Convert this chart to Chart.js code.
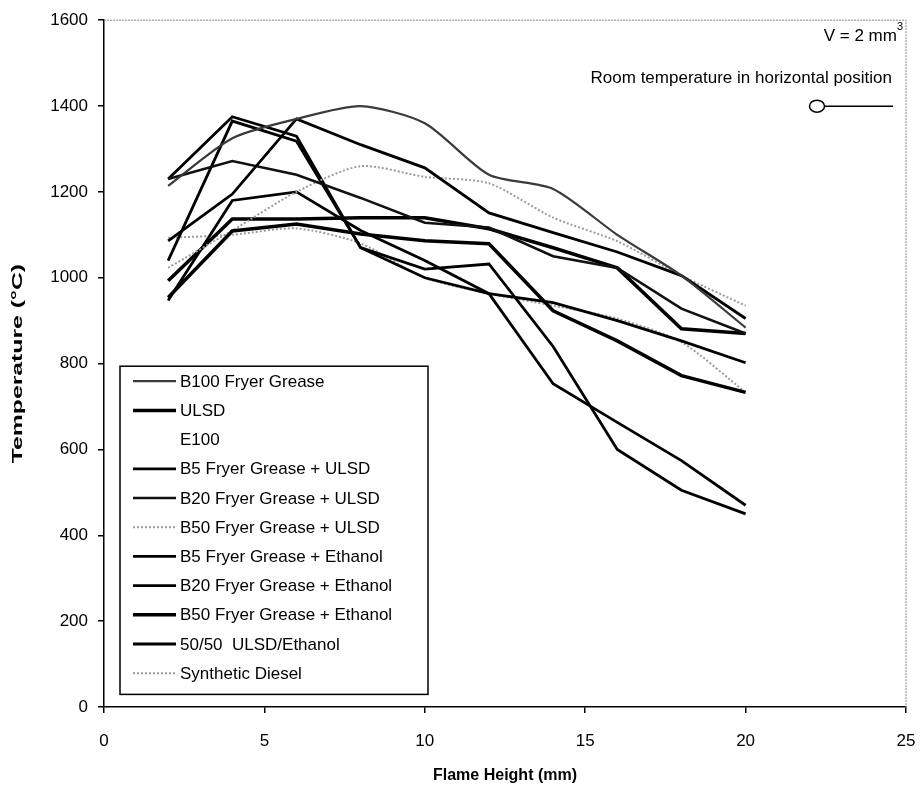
<!DOCTYPE html>
<html>
<head>
<meta charset="utf-8">
<script src="https://cdn.jsdelivr.net/npm/chart.js@4/dist/chart.umd.min.js"></script>
<style>
  html, body { margin: 0; padding: 0; background: #fff; }
  #wrap { width: 922px; height: 790px; }
</style>
</head>
<body>
<div id="wrap"><canvas id="flameChart" width="922" height="790"></canvas></div>
<script>
// flame height (mm)
const heights = [2, 4, 6, 8, 10, 12, 14, 16, 18, 20]

// temperature (°C)
const b100Grease    = [1214, 1325, 1370, 1400, 1360, 1240, 1207, 1100, 1005, 884]
const ulsd          = [954, 1109, 1125, 1102, 1086, 1079, 923, 853, 772, 733]
const e100          = []
const b5Ulsd        = [1086, 1195, 1370, 1310, 1256, 1151, 1105, 1060, 1005, 905]
const b20Ulsd       = [1230, 1272, 1240, 1186, 1128, 1117, 1050, 1023, 928, 870]
const b50Ulsd       = [1023, 1110, 1200, 1260, 1235, 1220, 1140, 1085, 1005, 935]
const b5Ethanol     = [1040, 1365, 1318, 1070, 1020, 1032, 840, 600, 505, 450]
const b20Ethanol    = [1230, 1375, 1330, 1070, 1000, 963, 942, 900, 853, 802]
const b50Ethanol    = [993, 1137, 1137, 1140, 1140, 1114, 1070, 1023, 881, 870]
const ulsdEthanol   = [947, 1180, 1200, 1110, 1040, 963, 753, 663, 574, 470]
const synthDiesel   = [1093, 1100, 1115, 1080, 1000, 963, 935, 905, 850, 733]

const yTicks = [0, 200, 400, 600, 800, 1000, 1200, 1400, 1600]
const xTicks = [0, 5, 10, 15, 20, 25]

const FONT = "'Liberation Sans', Arial, sans-serif"

function pts(values) {
    return values.map((v, i) => ({ x: heights[i], y: v }))
}

function series(label, values, color, width, dash, tension) {
    return {
        label: label,
        data: pts(values),
        borderColor: color,
        backgroundColor: color,
        borderWidth: width,
        borderDash: dash || [],
        tension: tension || 0,
        pointRadius: 0,
        fill: false
    }
}

const datasets = [
    series("B100 Fryer Grease", b100Grease, "#3a3a3a", 2.2, null, 0.25),
    series("ULSD", ulsd, "#000", 3.5),
    series("E100", e100, "rgba(0,0,0,0)", 2),
    series("B5 Fryer Grease + ULSD", b5Ulsd, "#000", 2.8),
    series("B20 Fryer Grease + ULSD", b20Ulsd, "#111", 2.6),
    series("B50 Fryer Grease + ULSD", b50Ulsd, "#9c9c9c", 2, [2, 2], 0.25),
    series("B5 Fryer Grease + Ethanol", b5Ethanol, "#000", 2.8),
    series("B20 Fryer Grease + Ethanol", b20Ethanol, "#000", 2.8),
    series("B50 Fryer Grease + Ethanol", b50Ethanol, "#000", 3.5),
    series("50/50  ULSD/Ethanol", ulsdEthanol, "#000", 2.8),
    series("Synthetic Diesel", synthDiesel, "#9c9c9c", 2, [2, 2], 0.25)
]

// legend box inside the plot, bottom left
const boxLegend = {
    id: "boxLegend",
    afterDatasetsDraw(chart) {
        const ctx = chart.ctx
        const area = chart.chartArea
        const left = area.left + 16
        const top = area.top + 346
        const w = 308
        const rowH = 29.2
        const h = rowH * datasets.length + 7
        ctx.save()
        ctx.fillStyle = "#fff"
        ctx.fillRect(left, top, w, h)
        ctx.strokeStyle = "#000"
        ctx.lineWidth = 1.5
        ctx.strokeRect(left, top, w, h)
        ctx.font = "17px " + FONT
        ctx.textBaseline = "middle"
        chart.data.datasets.forEach((ds, i) => {
            const y = top + 15 + i * rowH
            ctx.beginPath()
            ctx.strokeStyle = ds.borderColor
            ctx.lineWidth = ds.borderWidth
            ctx.setLineDash(ds.borderDash)
            ctx.moveTo(left + 13, y)
            ctx.lineTo(left + 56, y)
            ctx.stroke()
            ctx.setLineDash([])
            ctx.fillStyle = "#000"
            ctx.fillText(ds.label, left + 60, y + 1)
        })
        ctx.restore()
    }
}

// dotted frame on top/right, the corner note and the stretched y title
const frameNote = {
    id: "frameNote",
    afterDraw(chart) {
        const ctx = chart.ctx
        const a = chart.chartArea
        ctx.save()
        ctx.strokeStyle = "#8a8a8a"
        ctx.lineWidth = 1
        ctx.setLineDash([2, 1])
        ctx.beginPath()
        ctx.moveTo(a.left, a.top)
        ctx.lineTo(a.right, a.top)
        ctx.lineTo(a.right, a.bottom)
        ctx.stroke()
        ctx.setLineDash([])

        ctx.fillStyle = "#000"
        ctx.textBaseline = "middle"
        ctx.textAlign = "right"
        ctx.font = "11px " + FONT
        ctx.fillText("3", a.right - 3, a.top + 7)
        const supW = ctx.measureText("3").width
        ctx.font = "17px " + FONT
        ctx.fillText("V = 2 mm", a.right - 3 - supW, a.top + 16)
        ctx.fillText("Room temperature in horizontal position", a.right - 14, a.top + 58)

        ctx.strokeStyle = "#000"
        ctx.lineWidth = 1.5
        ctx.beginPath()
        ctx.ellipse(a.right - 89, a.top + 86, 7.5, 6, 0, 0, Math.PI * 2)
        ctx.stroke()
        ctx.beginPath()
        ctx.moveTo(a.right - 81, a.top + 86)
        ctx.lineTo(a.right - 13, a.top + 86)
        ctx.stroke()

        // y axis title, drawn tall and narrow like the scan
        ctx.translate(18, (a.top + a.bottom) / 2)
        ctx.rotate(-Math.PI / 2)
        ctx.scale(1.65, 1)
        ctx.textAlign = "center"
        ctx.font = "bold 15px " + FONT
        ctx.fillText("Temperature (°C)", 0, 0)
        ctx.restore()
    }
}

const FlameChart = {

    chart: null,

    init() {

        const canvas = document.getElementById("flameChart")

        if (!canvas) {
            return
        }

        this.chart = new Chart(canvas, {
            type: "line",
            data: { datasets: datasets },
            options: {
                responsive: false,
                animation: false,
                layout: { padding: { left: 0, right: 16, top: 20, bottom: 0 } },
                plugins: {
                    legend: { display: false },
                    tooltip: { enabled: false }
                },
                scales: {
                    x: {
                        type: "linear",
                        min: 0,
                        max: 25,
                        afterBuildTicks: (s) => { s.ticks = xTicks.map(v => ({ value: v })) },
                        afterFit: (s) => {
                            s.height = 83
                            s.paddingLeft = 0
                            s.paddingRight = 0
                        },
                        ticks: {
                            color: "#000",
                            padding: 18,
                            font: { family: FONT, size: 17 },
                            callback: (v) => String(v)
                        },
                        grid: { drawOnChartArea: false, drawTicks: true, tickLength: 6, color: "#000", lineWidth: 1.5 },
                        border: { display: true, color: "#000", width: 1.5 },
                        title: {
                            display: true,
                            text: "Flame Height (mm)",
                            color: "#000",
                            font: { family: FONT, size: 16, weight: "bold" },
                            padding: { top: 0, bottom: 5 }
                        }
                    },
                    y: {
                        type: "linear",
                        min: 0,
                        max: 1600,
                        afterBuildTicks: (s) => { s.ticks = yTicks.map(v => ({ value: v })) },
                        afterFit: (s) => { s.width = 104 },
                        ticks: {
                            color: "#000",
                            padding: 10,
                            font: { family: FONT, size: 17 },
                            callback: (v) => String(v)
                        },
                        grid: { drawOnChartArea: false, drawTicks: true, tickLength: 6, color: "#000", lineWidth: 1.5 },
                        border: { display: true, color: "#000", width: 1.5 }
                    }
                }
            },
            plugins: [frameNote, boxLegend]
        })
    }
}

window.addEventListener("load", () => {
    FlameChart.init()
})
</script>
</body>
</html>
